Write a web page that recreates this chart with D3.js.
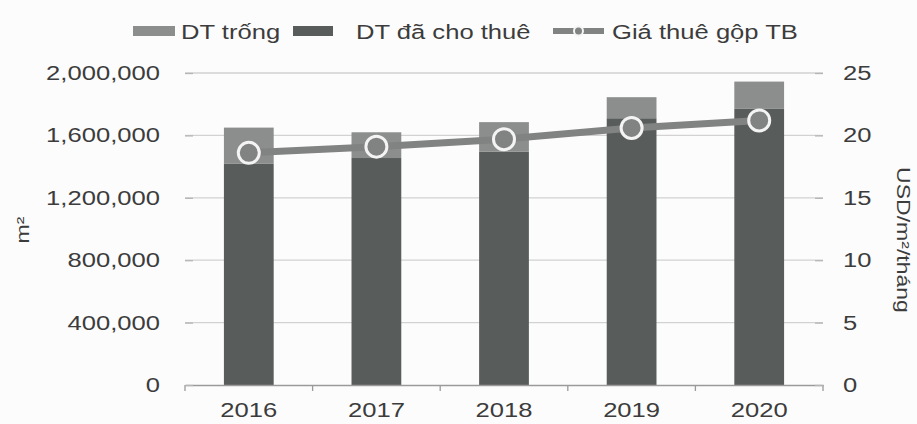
<!DOCTYPE html>
<html>
<head>
<meta charset="utf-8">
<script src="https://cdn.jsdelivr.net/npm/d3@7"></script>
<style>
  html, body { margin: 0; padding: 0; background: #fcfcfc; }
  svg { display: block; font-family: "Liberation Sans", Arial, sans-serif; }
</style>
</head>
<body>
<svg id="chart" width="917" height="424"></svg>
<script>
// Office area (m²) and average gross rent (USD/m²/month), 2016–2020
const years = ["2016", "2017", "2018", "2019", "2020"];
const leasedArea = [1420000, 1455000, 1495000, 1710000, 1770000];
const vacantArea = [230000, 165000, 190000, 135000, 175000];
const grossRent = [18.6, 19.1, 19.7, 20.6, 21.2];
const leftTicks = [0, 400000, 800000, 1200000, 1600000, 2000000];
const rightTicks = [0, 5, 10, 15, 20, 25];
const legendLabels = ["DT trống", "DT đã cho thuê", "Giá thuê gộp TB"];

(function draw() {
  const colVacant = "#8b8e8c";
  const colLeased = "#585c5a";
  const colLine = "#808381";
  const colText = "#3c3c3c";
  const stretch = "scale(1.28,1)";

  const svg = d3.select("#chart");
  const plotL = 185, plotR = 823, plotT = 73, plotB = 385;

  const x = d3.scaleBand().domain(years).range([plotL, plotR])
    .paddingInner(0.61).paddingOuter(0.305);
  const yL = d3.scaleLinear().domain([0, 2000000]).range([plotB, plotT]);
  const yR = d3.scaleLinear().domain([0, 25]).range([plotB, plotT]);

  // horizontal gridlines
  svg.append("g").selectAll("line").data(rightTicks.slice(1)).join("line")
    .attr("x1", plotL).attr("x2", plotR)
    .attr("y1", d => yR(d)).attr("y2", d => yR(d))
    .attr("stroke", "#d2d2d2").attr("stroke-width", 1.3);

  // stacked bars
  const stack = years.map((y, i) => ({ year: y, leased: leasedArea[i], vacant: vacantArea[i] }));
  const bars = svg.append("g");
  bars.selectAll("rect.leased").data(stack).join("rect")
    .attr("class", "leased")
    .attr("x", d => x(d.year)).attr("width", x.bandwidth())
    .attr("y", d => yL(d.leased)).attr("height", d => yL(0) - yL(d.leased))
    .attr("fill", colLeased);
  bars.selectAll("rect.vacant").data(stack).join("rect")
    .attr("class", "vacant")
    .attr("x", d => x(d.year)).attr("width", x.bandwidth())
    .attr("y", d => yL(d.leased + d.vacant)).attr("height", d => yL(d.leased) - yL(d.leased + d.vacant))
    .attr("fill", colVacant);

  // x axis
  const xAxis = svg.append("g").attr("transform", `translate(0,${plotB})`)
    .call(d3.axisBottom(x).tickSize(0).tickPadding(18));
  xAxis.select(".domain").attr("stroke", "#9a9a9a").attr("stroke-width", 1.3);
  xAxis.selectAll("text").attr("font-size", 20).attr("fill", colText)
    .attr("transform", stretch);
  // category boundary ticks
  const bounds = years.map(y => x(y) - x.step() * x.paddingInner() / 2).concat([plotR]);
  bounds[0] = plotL;
  svg.append("g").selectAll("line").data(bounds).join("line")
    .attr("x1", d => d).attr("x2", d => d)
    .attr("y1", plotB).attr("y2", plotB + 6)
    .attr("stroke", "#9a9a9a").attr("stroke-width", 1.3);

  // left axis
  const yAxisL = svg.append("g").attr("transform", `translate(${plotL},0)`)
    .call(d3.axisLeft(yL).tickValues(leftTicks).tickFormat(d3.format(",")).tickSize(0).tickPadding(0));
  yAxisL.select(".domain").remove();
  yAxisL.selectAll("text").attr("x", 0).attr("font-size", 20).attr("fill", colText)
    .attr("transform", "translate(-25,0) " + stretch);
  yAxisL.selectAll(".tick").append("line")
    .attr("x1", 0).attr("x2", 8).attr("stroke", "#b5b5b5").attr("stroke-width", 1.3);

  // right axis
  const yAxisR = svg.append("g").attr("transform", `translate(${plotR},0)`)
    .call(d3.axisRight(yR).tickValues(rightTicks).tickSize(0).tickPadding(0));
  yAxisR.select(".domain").remove();
  yAxisR.selectAll("text").attr("x", 0).attr("font-size", 20).attr("fill", colText)
    .attr("transform", "translate(20,0) " + stretch);
  yAxisR.selectAll(".tick").append("line")
    .attr("x1", -8).attr("x2", 0).attr("stroke", "#b5b5b5").attr("stroke-width", 1.3);

  // rent line with markers
  const pts = years.map((y, i) => [x(y) + x.bandwidth() / 2, yR(grossRent[i])]);
  svg.append("path").datum(pts)
    .attr("d", d3.line())
    .attr("fill", "none").attr("stroke", colLine).attr("stroke-width", 7);
  svg.append("g").selectAll("circle").data(pts).join("circle")
    .attr("cx", d => d[0]).attr("cy", d => d[1]).attr("r", 10.5)
    .attr("fill", colLine).attr("stroke", "#f4f4f4").attr("stroke-width", 3);

  // axis titles
  svg.append("text").attr("transform", "translate(29,230) rotate(-90) " + stretch)
    .attr("text-anchor", "middle").attr("font-size", 18).attr("fill", colText)
    .text("m²");
  svg.append("text").attr("transform", "translate(897,240) rotate(90) " + stretch)
    .attr("text-anchor", "middle").attr("font-size", 18).attr("fill", colText)
    .text("USD/m²/tháng");

  // legend
  const lg = svg.append("g");
  const legY = 31;
  lg.append("rect").attr("x", 133).attr("y", legY - 5).attr("width", 42).attr("height", 10).attr("fill", colVacant);
  lg.append("text").attr("transform", `translate(181,${legY + 8}) ${stretch}`)
    .attr("font-size", 20).attr("fill", colText).text(legendLabels[0]);
  lg.append("rect").attr("x", 293).attr("y", legY - 5).attr("width", 40).attr("height", 10).attr("fill", colLeased);
  lg.append("text").attr("transform", `translate(356,${legY + 8}) ${stretch}`)
    .attr("font-size", 20).attr("fill", colText).text(legendLabels[1]);
  lg.append("line").attr("x1", 553).attr("x2", 604).attr("y1", legY).attr("y2", legY)
    .attr("stroke", colLine).attr("stroke-width", 6);
  lg.append("circle").attr("cx", 578.5).attr("cy", legY).attr("r", 4.5)
    .attr("fill", colLine).attr("stroke", "#f4f4f4").attr("stroke-width", 2);
  lg.append("text").attr("transform", `translate(612,${legY + 8}) ${stretch}`)
    .attr("font-size", 20).attr("fill", colText).text(legendLabels[2]);
})();
</script>
</body>
</html>
